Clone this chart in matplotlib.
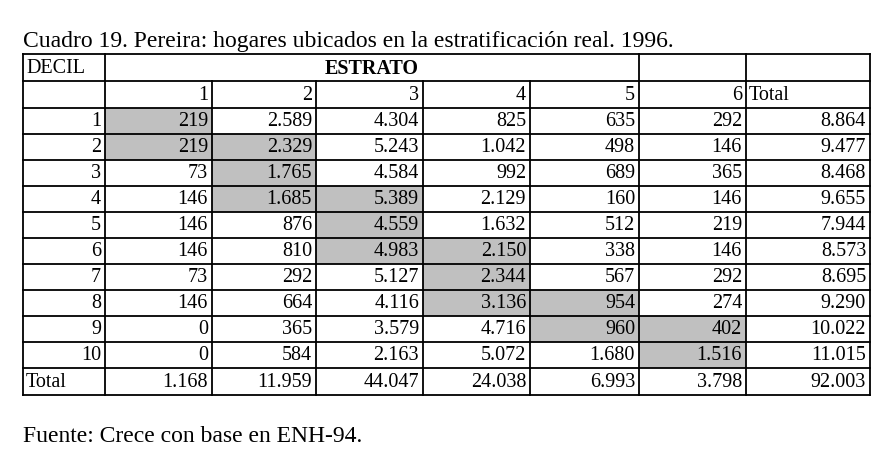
import matplotlib
matplotlib.use("Agg")
from matplotlib import pyplot as plt
from matplotlib.patches import Rectangle

deciles = ["1", "2", "3", "4", "5", "6", "7", "8", "9", "10"]
estratos = ["1", "2", "3", "4", "5", "6"]
estrato_1 = ["219", "219", "73", "146", "146", "146", "73", "146", "0", "0"]
estrato_2 = ["2.589", "2.329", "1.765", "1.685", "876", "810", "292", "664", "365", "584"]
estrato_3 = ["4.304", "5.243", "4.584", "5.389", "4.559", "4.983", "5.127", "4.116", "3.579", "2.163"]
estrato_4 = ["825", "1.042", "992", "2.129", "1.632", "2.150", "2.344", "3.136", "4.716", "5.072"]
estrato_5 = ["635", "498", "689", "160", "512", "338", "567", "954", "960", "1.680"]
estrato_6 = ["292", "146", "365", "146", "219", "146", "292", "274", "402", "1.516"]
total_col = ["8.864", "9.477", "8.468", "9.655", "7.944", "8.573", "8.695", "9.290", "10.022", "11.015"]
total_row = ["1.168", "11.959", "44.047", "24.038", "6.993", "3.798", "92.003"]
# shaded cells: (decile index, estrato index)
shaded = [(0, 0), (1, 0), (1, 1), (2, 1), (3, 1), (3, 2), (4, 2), (5, 2), (5, 3),
          (6, 3), (7, 3), (7, 4), (8, 4), (8, 5), (9, 5)]

title = "Cuadro 19. Pereira: hogares ubicados en la estratificación real. 1996."
source = "Fuente: Crece con base en ENH-94."

W, H = 888, 459
fig = plt.figure(figsize=(W / 100, H / 100), dpi=100)
ax = fig.add_axes([0, 0, 1, 1])
ax.set_xlim(0, W)
ax.set_ylim(H, 0)
ax.axis("off")

font = "Liberation Serif"
fs = 14.5

cols = [23, 105, 212, 316, 423, 530, 639, 746, 870]
rows = [54, 81, 108] + [108 + 26 * (i + 1) for i in range(10)] + [395]

# shading
for r, c in shaded:
    y0 = rows[r + 2]
    ax.add_patch(Rectangle((cols[c + 1], y0), cols[c + 2] - cols[c + 1],
                           rows[r + 3] - y0, facecolor="#c0c0c0", edgecolor="none"))

kw = dict(color="black", lw=1.3, solid_capstyle="projecting")
for y in rows:
    ax.plot([cols[0], cols[-1]], [y, y], **kw)
# inner estrato lines start below the merged ESTRATO cell
for i, x in enumerate(cols):
    y_start = rows[1] if i in (2, 3, 4, 5) else rows[0]
    ax.plot([x, x], [y_start, rows[-1]], **kw)

def cell_text(x, y, s, ha="right", weight="normal"):
    ax.text(x, y, s, ha=ha, va="center", fontsize=fs, family=font,
            fontweight=weight)

pad = 4
cy = lambda r: (rows[r] + rows[r + 1]) / 2 + 1

cell_text(cols[0] + 3, cy(0), "DECIL", ha="left")
cell_text(372, cy(0), "ESTRATO", ha="center", weight="bold")
for j, e in enumerate(estratos):
    cell_text(cols[j + 2] - pad, cy(1), e)
cell_text(cols[7] + 3, cy(1), "Total", ha="left")

series = [estrato_1, estrato_2, estrato_3, estrato_4, estrato_5, estrato_6, total_col]
for i, d in enumerate(deciles):
    cell_text(cols[1] - pad, cy(i + 2), d)
    for j, col in enumerate(series):
        cell_text(cols[j + 2] - pad, cy(i + 2), col[i])

cell_text(cols[0] + 3, cy(12), "Total", ha="left")
for j, v in enumerate(total_row):
    cell_text(cols[j + 2] - pad, cy(12), v)

ax.text(23, 42, title, ha="left", va="center", fontsize=17, family=font)
ax.text(23, 437, source, ha="left", va="center", fontsize=17, family=font)

fig.savefig("out.png", dpi=100, facecolor="white")
